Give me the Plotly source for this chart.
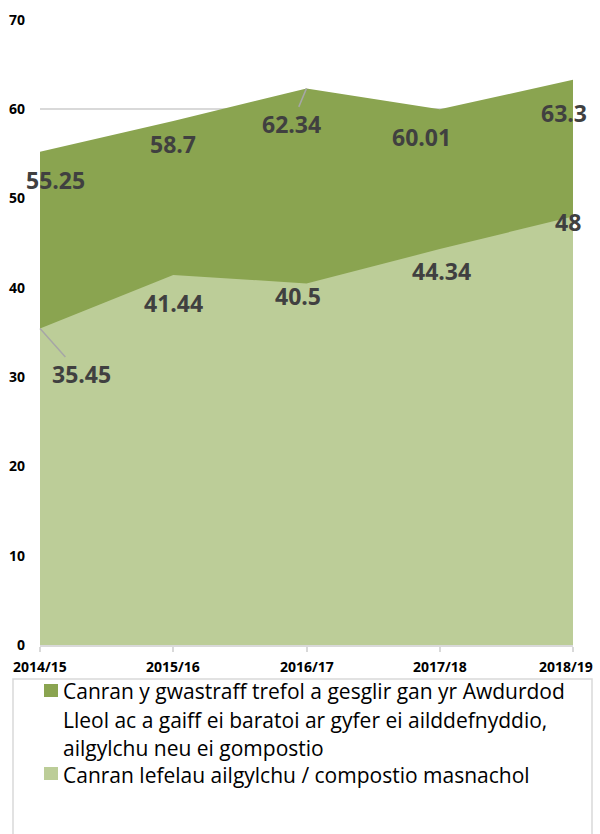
import plotly.graph_objects as go

# ---- data ----
categories = ["2014/15", "2015/16", "2016/17", "2017/18", "2018/19"]
la_collected = [55.25, 58.7, 62.34, 60.01, 63.3]
commercial = [35.45, 41.44, 40.5, 44.34, 48]
series_names = [
    "Canran y gwastraff trefol a gesglir gan yr Awdurdod Lleol ac a gaiff ei baratoi ar gyfer ei ailddefnyddio, ailgylchu neu ei gompostio",
    "Canran lefelau ailgylchu / compostio masnachol",
]
legend_lines = [
    ["Canran y gwastraff trefol a gesglir gan yr Awdurdod",
     "Lleol ac a gaiff ei baratoi ar gyfer ei ailddefnyddio,",
     "ailgylchu neu ei gompostio"],
    ["Canran lefelau ailgylchu / compostio masnachol"],
]
y_ticks = [0, 10, 20, 30, 40, 50, 60, 70]

# ---- style ----
W, H = 600, 834
ML, MR, MT, MB = 40, 27, 20, 189
DARK = "#8aa450"
LIGHT = "#bccd98"
GRID = "#d9d9d9"
LABEL_C = "#404040"
FONT = "Open Sans"

# label offsets (pixels, relative to the data point) and leader flags
off_dark = [(15, 28), (0, 23), (-15, 36), (-18, 28), (-9, 33)]
lead_dark = [False, False, True, False, False]
off_light = [(41, 46), (0, 28), (-9, 13), (2, 22), (-5, 6)]
lead_light = [True, False, False, False, False]
# horizontal nudges of the category labels (px), last one kept inside page
cat_label_shift = [0, 0, 0, 0, -7]

PW = W - ML - MR
PH = H - MT - MB


def px(x):
    return (x - ML) / PW


def py(y):
    return (H - MB - y) / PH


fig = go.Figure()
fig.add_trace(go.Scatter(x=categories, y=la_collected, name=series_names[0],
                         mode="lines", line=dict(width=0, color=DARK),
                         fill="tozeroy", fillcolor=DARK, showlegend=False,
                         hoverinfo="x+y"))
fig.add_trace(go.Scatter(x=categories, y=commercial, name=series_names[1],
                         mode="lines", line=dict(width=0, color=LIGHT),
                         fill="tozeroy", fillcolor=LIGHT, showlegend=False,
                         hoverinfo="x+y"))

annotations = []
for vals, offs, leads in [(la_collected, off_dark, lead_dark),
                          (commercial, off_light, lead_light)]:
    for c, v, (dx, dy), lead in zip(categories, vals, offs, leads):
        annotations.append(dict(
            x=c, y=v, xref="x", yref="y", text=f"{v:g}",
            showarrow=True, ax=dx, ay=dy, arrowhead=0, standoff=0,
            arrowwidth=1.5,
            arrowcolor="#a6a6a6" if lead else "rgba(0,0,0,0)",
            font=dict(family=FONT, size=23, color=LABEL_C, weight="bold"),
        ))

# category labels under the axis
for c, sh in zip(categories, cat_label_shift):
    annotations.append(dict(
        x=c, y=py(667), xref="x", yref="paper", text=c,
        showarrow=False, xanchor="center", yanchor="middle", xshift=sh,
        font=dict(family=FONT, size=14, color="#000000", weight="bold"),
    ))

# legend (box, swatches, text)
shapes = [dict(type="rect", xref="paper", yref="paper",
               x0=px(13), x1=px(592), y0=py(845), y1=py(679),
               line=dict(color=GRID, width=1.5), fillcolor="rgba(0,0,0,0)",
               layer="above")]
swatch_tops = [684, 767]
line_centers = [[691, 720, 748], [775]]
for color, top, lines, centers in zip([DARK, LIGHT], swatch_tops,
                                      legend_lines, line_centers):
    shapes.append(dict(type="rect", xref="paper", yref="paper",
                       x0=px(44), x1=px(58), y0=py(top + 13), y1=py(top),
                       line=dict(width=0), fillcolor=color, layer="above"))
    for t, cy in zip(lines, centers):
        annotations.append(dict(
            x=px(62), y=py(cy), xref="paper", yref="paper", text=t,
            showarrow=False, xanchor="left", yanchor="middle",
            borderpad=0,
            font=dict(family=FONT, size=21, color="#000000"),
        ))

fig.update_layout(
    width=W, height=H,
    margin=dict(l=ML, r=MR, t=MT, b=MB),
    paper_bgcolor="white", plot_bgcolor="white",
    showlegend=False,
    annotations=annotations,
    shapes=shapes,
    font=dict(family=FONT),
)
fig.update_xaxes(
    type="category", range=[0, len(categories) - 1], automargin=False,
    showticklabels=False,
    showgrid=False, zeroline=False,
    showline=True, linecolor=GRID, linewidth=2,
    ticks="outside", ticklen=5, tickcolor=GRID, tickwidth=1.5,
)
fig.update_yaxes(
    range=[0, 70], tickvals=y_ticks, automargin=False,
    showgrid=True, gridcolor=GRID, gridwidth=1.5, zeroline=False,
    showline=False, ticks="", ticklabelstandoff=14,
    tickfont=dict(family=FONT, size=14, color="#000000", weight="bold"),
)

fig.write_html("out.html",
               config={"displayModeBar": False},
               post_script="document.body.style.margin='0';")
